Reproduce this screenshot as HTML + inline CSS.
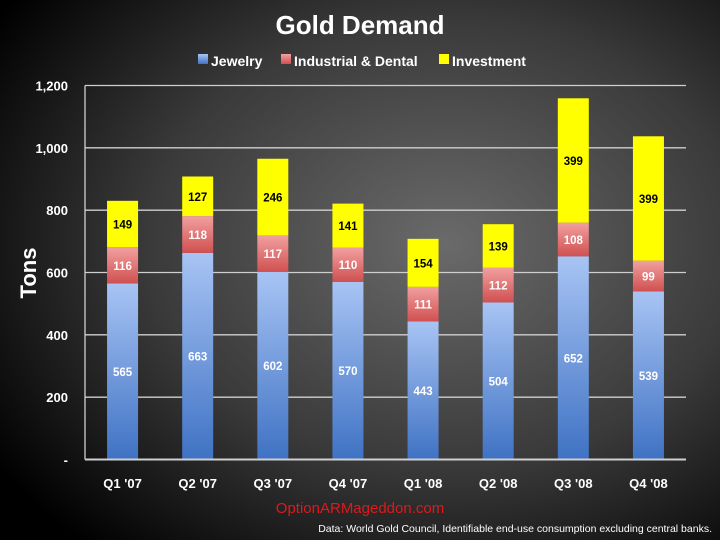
<!DOCTYPE html>
<html><head><meta charset="utf-8"><style>
body{margin:0;width:720px;height:540px;overflow:hidden;font-family:"Liberation Sans",sans-serif}
</style></head><body>
<svg width="720" height="540" xmlns="http://www.w3.org/2000/svg">
<defs>
<radialGradient id="bg" cx="0.62" cy="0.45" r="0.75">
<stop offset="0" stop-color="#6a6a6a"/><stop offset="0.55" stop-color="#3a3a3a"/><stop offset="1" stop-color="#000"/>
</radialGradient>
<linearGradient id="gj" x1="0" y1="0" x2="0" y2="1"><stop offset="0" stop-color="#a8c4f4"/><stop offset="1" stop-color="#3f72c4"/></linearGradient>
<linearGradient id="gi" x1="0" y1="0" x2="0" y2="1"><stop offset="0" stop-color="#f2a0a0"/><stop offset="1" stop-color="#d05050"/></linearGradient>
</defs>
<rect width="720" height="540" fill="url(#bg)"/>
<text x="360" y="34" text-anchor="middle" fill="#fff" font-size="26" font-weight="bold">Gold Demand</text>
<g font-size="14" font-weight="bold" fill="#fff">
<rect x="198" y="54" width="10" height="10" fill="url(#gj)"/>
<text x="211" y="66">Jewelry</text>
<rect x="281" y="54" width="10" height="10" fill="url(#gi)"/>
<text x="294" y="66">Industrial &amp; Dental</text>
<rect x="439" y="54" width="10" height="10" fill="#ffff00"/>
<text x="452" y="66">Investment</text>
</g>
<text transform="translate(36,273) rotate(-90)" text-anchor="middle" fill="#fff" font-size="22" font-weight="bold">Tons</text>
<g id="plot"></g>
<text x="360" y="513" text-anchor="middle" fill="#e0191b" font-size="15">OptionARMageddon.com</text>
<text x="712" y="532" text-anchor="end" fill="#fff" font-size="10.5">Data: World Gold Council, Identifiable end-use consumption excluding central banks.</text>
</svg>
<script>
const categories=["Q1 '07","Q2 '07","Q3 '07","Q4 '07","Q1 '08","Q2 '08","Q3 '08","Q4 '08"];
const jewelry=[565,663,602,570,443,504,652,539];
const industrial=[116,118,117,110,111,112,108,99];
const investment=[149,127,246,141,154,139,399,399];
const yTicks=[0,200,400,600,800,1000,1200];
const yTickLabels=["-","200","400","600","800","1,000","1,200"];
const NS="http://www.w3.org/2000/svg";
const g=document.getElementById('plot');
const X0=85,X1=686,Y0=459.5,Y1=85.5,YMAX=1200;
const y=v=>Y0-(v/YMAX)*(Y0-Y1);
const bw=(X1-X0)/categories.length;
const xc=i=>X0+bw*(i+0.5);
function el(t,a){const e=document.createElementNS(NS,t);for(const k in a)e.setAttribute(k,a[k]);g.appendChild(e);return e;}
yTicks.forEach((v,i)=>{
 if(v>0){const l=el('line',{x1:X0,x2:X1,y1:y(v),y2:y(v),stroke:'#cfcfcf','stroke-width':1.3});
 
 }
 const t=el('text',{x:68,y:y(v)+5,'text-anchor':'end',fill:'#fff','font-size':13,'font-weight':'bold'});
 t.textContent=yTickLabels[i];
 
 
});
const ax=el('line',{x1:X0,x2:X0,y1:Y1,y2:Y0,stroke:'#cfcfcf','stroke-width':1.3});


const series=[[jewelry,'url(#gj)','#fff'],[industrial,'url(#gi)','#fff'],[investment,'#ffff00','#000']];
categories.forEach((c,i)=>{
 let base=0;
 series.forEach(([arr,fill,tc],s)=>{
  const v=arr[i];const top=y(base+v),bot=y(base);
  const r=el('rect',{x:xc(i)-15.5,y:top,width:31,height:bot-top,fill:fill});
  
  
  const t=el('text',{x:xc(i),y:(top+bot)/2+4.5,'text-anchor':'middle',fill:tc,'font-size':11.5,'font-weight':'bold'});
  t.textContent=v;
  
  
  base+=v;
 });
 const t=el('text',{x:xc(i),y:488,'text-anchor':'middle',fill:'#fff','font-size':13,'font-weight':'bold'});
 t.textContent=c;
 
 
});
const xa=el('line',{x1:X0,x2:X1,y1:Y0,y2:Y0,stroke:'#cfcfcf','stroke-width':2});


</script>
</body></html>
